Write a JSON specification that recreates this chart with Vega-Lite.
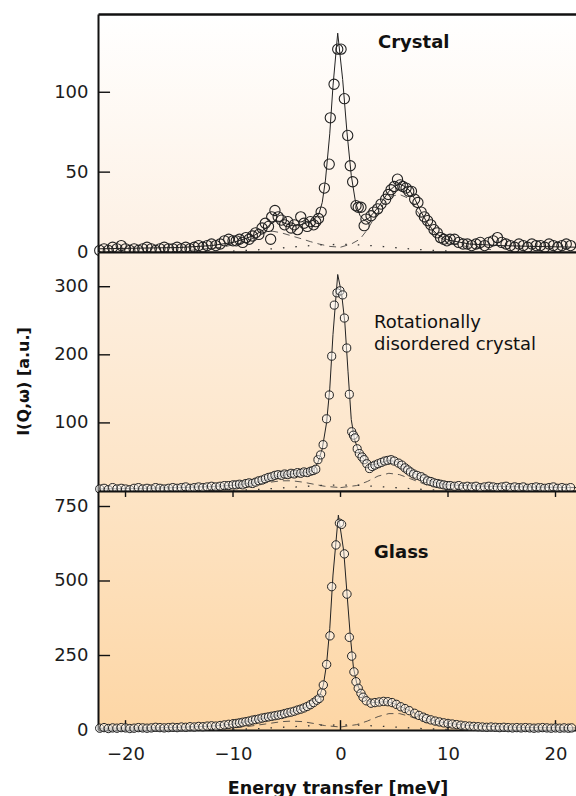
{
"$schema": "https://vega.github.io/schema/vega-lite/v6.json",
"background": "white",
"padding": {"left": 15, "top": 14, "right": 0, "bottom": 0},
"bounds": "flush",
"spacing": 0,
"config": {
  "view": {"stroke": null},
  "font": "DejaVu Sans",
  "axis": {"labelFont": "DejaVu Sans", "labelFontSize": 18, "labelColor": "#1c1c1c", "titleFont": "DejaVu Sans", "titleColor": "#111", "domainColor": "#111", "grid": false, "ticks": false, "zindex": 1}
},
"datasets": {
"p1": [{"x":-22.4,"y":1},{"x":-22.0,"y":2},{"x":-21.6,"y":1},{"x":-21.2,"y":3},{"x":-20.8,"y":2},{"x":-20.4,"y":4},{"x":-20.0,"y":2},{"x":-19.6,"y":1},{"x":-19.2,"y":2},{"x":-18.8,"y":1},{"x":-18.4,"y":2},{"x":-18.0,"y":3},{"x":-17.6,"y":2},{"x":-17.2,"y":1},{"x":-16.8,"y":2},{"x":-16.4,"y":3},{"x":-16.0,"y":2},{"x":-15.6,"y":2},{"x":-15.2,"y":3},{"x":-14.8,"y":2},{"x":-14.4,"y":3},{"x":-14.0,"y":2},{"x":-13.6,"y":3},{"x":-13.2,"y":4},{"x":-12.8,"y":3},{"x":-12.4,"y":4},{"x":-12.0,"y":5},{"x":-11.6,"y":4},{"x":-11.2,"y":5},{"x":-10.8,"y":7},{"x":-10.4,"y":8},{"x":-10.0,"y":7},
{"x":-9.7,"y":7},{"x":-9.4,"y":8},{"x":-9.1,"y":6},{"x":-8.8,"y":9},{"x":-8.5,"y":8},{"x":-8.2,"y":10},{"x":-7.9,"y":12},{"x":-7.6,"y":11},{"x":-7.3,"y":15},{"x":-7.0,"y":18},{"x":-6.7,"y":16},{"x":-6.5,"y":8},{"x":-6.4,"y":22},{"x":-6.1,"y":26},{"x":-5.8,"y":22},{"x":-5.5,"y":20},{"x":-5.2,"y":17},{"x":-4.9,"y":19},{"x":-4.6,"y":15},{"x":-4.3,"y":17},{"x":-4.0,"y":14},{"x":-3.7,"y":22},{"x":-3.4,"y":18},{"x":-3.1,"y":16},{"x":-2.8,"y":19},{"x":-2.5,"y":17},{"x":-2.3,"y":19},{"x":-2.05,"y":21},{"x":-1.8,"y":25},{"x":-1.5,"y":40},{"x":-1.05,"y":55},{"x":-0.95,"y":84},{"x":-0.6,"y":105},{"x":-0.26,"y":127},{"x":0.05,"y":127},{"x":0.36,"y":96},{"x":0.67,"y":73},{"x":0.91,"y":54},{"x":1.13,"y":44},{"x":1.44,"y":29},{"x":1.65,"y":28},{"x":1.9,"y":28},{"x":2.2,"y":16.5},{"x":2.37,"y":20.6},{"x":2.84,"y":22.7},{"x":3.1,"y":25},{"x":3.46,"y":27},{"x":3.77,"y":30},{"x":4.2,"y":33},{"x":4.45,"y":36},{"x":4.7,"y":39},{"x":5.0,"y":41},{"x":5.3,"y":45.6},{"x":5.55,"y":42},{"x":5.8,"y":41},{"x":6.1,"y":40},{"x":6.35,"y":38},{"x":6.6,"y":38},{"x":6.9,"y":33},{"x":7.2,"y":31},{"x":7.5,"y":25},{"x":7.8,"y":22},{"x":8.1,"y":19.6},{"x":8.4,"y":17},{"x":8.7,"y":14},{"x":9.0,"y":12},{"x":9.3,"y":9},{"x":9.6,"y":8},{"x":9.9,"y":7},
{"x":10.2,"y":8},{"x":10.6,"y":8},{"x":11.0,"y":6},{"x":11.4,"y":5},{"x":11.8,"y":5},{"x":12.2,"y":4},{"x":12.6,"y":5},{"x":13.0,"y":6},{"x":13.4,"y":4},{"x":13.8,"y":6},{"x":14.2,"y":7},{"x":14.6,"y":9},{"x":15.0,"y":6},{"x":15.4,"y":5},{"x":15.8,"y":4},{"x":16.2,"y":3},{"x":16.6,"y":5},{"x":17.0,"y":4},{"x":17.4,"y":3},{"x":17.8,"y":5},{"x":18.2,"y":4},{"x":18.6,"y":4},{"x":19.0,"y":3},{"x":19.4,"y":5},{"x":19.8,"y":4},{"x":20.2,"y":3},{"x":20.6,"y":4},{"x":21.0,"y":5},{"x":21.4,"y":4}],
"p2": [{"x":-22.4,"y":3},{"x":-22.0,"y":4},{"x":-21.6,"y":2},{"x":-21.2,"y":5},{"x":-20.8,"y":3},{"x":-20.4,"y":4},{"x":-20.0,"y":3},{"x":-19.6,"y":2},{"x":-19.2,"y":4},{"x":-18.8,"y":5},{"x":-18.4,"y":3},{"x":-18.0,"y":4},{"x":-17.6,"y":3},{"x":-17.2,"y":5},{"x":-16.8,"y":4},{"x":-16.4,"y":3},{"x":-16.0,"y":4},{"x":-15.6,"y":5},{"x":-15.2,"y":4},{"x":-14.8,"y":5},{"x":-14.4,"y":6},{"x":-14.0,"y":4},{"x":-13.6,"y":5},{"x":-13.2,"y":6},{"x":-12.8,"y":5},{"x":-12.4,"y":6},{"x":-12.0,"y":7},{"x":-11.6,"y":6},{"x":-11.2,"y":7},{"x":-10.8,"y":8},{"x":-10.4,"y":8},{"x":-10.0,"y":9},
{"x":-9.7,"y":9},{"x":-9.4,"y":10},{"x":-9.1,"y":9},{"x":-8.8,"y":11},{"x":-8.5,"y":12},{"x":-8.2,"y":11},{"x":-7.9,"y":13},{"x":-7.6,"y":15},{"x":-7.3,"y":16},{"x":-7.0,"y":18},{"x":-6.7,"y":20},{"x":-6.4,"y":21},{"x":-6.1,"y":23},{"x":-5.8,"y":24},{"x":-5.5,"y":23},{"x":-5.2,"y":25},{"x":-4.9,"y":24},{"x":-4.6,"y":26},{"x":-4.3,"y":25},{"x":-4.0,"y":27},{"x":-3.7,"y":26},{"x":-3.4,"y":28},{"x":-3.1,"y":27},{"x":-2.8,"y":29},{"x":-2.55,"y":30},{"x":-2.3,"y":32},{"x":-2.1,"y":46},{"x":-1.85,"y":53},{"x":-1.62,"y":68},{"x":-1.3,"y":106},{"x":-1.04,"y":141},{"x":-0.82,"y":198},{"x":-0.58,"y":273},{"x":-0.33,"y":291},{"x":-0.05,"y":294},{"x":0.2,"y":288},{"x":0.36,"y":254},{"x":0.58,"y":210},{"x":0.82,"y":142},{"x":1.04,"y":87},{"x":1.2,"y":82},{"x":1.35,"y":78},{"x":1.55,"y":62},{"x":1.75,"y":55},{"x":2.0,"y":50},{"x":2.2,"y":46},{"x":2.45,"y":40},{"x":2.7,"y":33},{"x":2.95,"y":36},{"x":3.2,"y":38},{"x":3.5,"y":40},{"x":3.8,"y":42},{"x":4.1,"y":44},{"x":4.4,"y":45},{"x":4.7,"y":46},{"x":5.0,"y":44},{"x":5.4,"y":41},{"x":5.7,"y":38},{"x":6.0,"y":34},{"x":6.25,"y":31},{"x":6.5,"y":28},{"x":6.8,"y":25},{"x":7.1,"y":23},{"x":7.5,"y":21},{"x":7.8,"y":18},{"x":8.1,"y":15},{"x":8.4,"y":14},{"x":8.7,"y":12},{"x":9.0,"y":11},{"x":9.3,"y":10},{"x":9.6,"y":9},{"x":9.9,"y":8},
{"x":10.2,"y":8},{"x":10.6,"y":7},{"x":11.0,"y":8},{"x":11.4,"y":6},{"x":11.8,"y":7},{"x":12.2,"y":6},{"x":12.6,"y":7},{"x":13.0,"y":5},{"x":13.4,"y":6},{"x":13.8,"y":7},{"x":14.2,"y":6},{"x":14.6,"y":5},{"x":15.0,"y":6},{"x":15.4,"y":7},{"x":15.8,"y":5},{"x":16.2,"y":6},{"x":16.6,"y":5},{"x":17.0,"y":6},{"x":17.4,"y":4},{"x":17.8,"y":5},{"x":18.2,"y":6},{"x":18.6,"y":5},{"x":19.0,"y":4},{"x":19.4,"y":5},{"x":19.8,"y":6},{"x":20.2,"y":4},{"x":20.6,"y":5},{"x":21.0,"y":4},{"x":21.4,"y":5}],
"p3": [{"x":-22.4,"y":6},{"x":-22.0,"y":8},{"x":-21.6,"y":5},{"x":-21.2,"y":7},{"x":-20.8,"y":6},{"x":-20.4,"y":8},{"x":-20.0,"y":7},{"x":-19.6,"y":5},{"x":-19.2,"y":6},{"x":-18.8,"y":8},{"x":-18.4,"y":7},{"x":-18.0,"y":6},{"x":-17.6,"y":7},{"x":-17.2,"y":9},{"x":-16.8,"y":8},{"x":-16.4,"y":7},{"x":-16.0,"y":8},{"x":-15.6,"y":9},{"x":-15.2,"y":8},{"x":-14.8,"y":10},{"x":-14.4,"y":9},{"x":-14.0,"y":11},{"x":-13.6,"y":10},{"x":-13.2,"y":12},{"x":-12.8,"y":11},{"x":-12.4,"y":13},{"x":-12.0,"y":14},{"x":-11.6,"y":13},{"x":-11.2,"y":15},{"x":-10.8,"y":17},{"x":-10.4,"y":19},{"x":-10.0,"y":21},
{"x":-9.7,"y":22},{"x":-9.4,"y":24},{"x":-9.1,"y":26},{"x":-8.8,"y":28},{"x":-8.5,"y":30},{"x":-8.2,"y":33},{"x":-7.9,"y":35},{"x":-7.6,"y":37},{"x":-7.3,"y":40},{"x":-7.0,"y":42},{"x":-6.7,"y":44},{"x":-6.4,"y":46},{"x":-6.1,"y":48},{"x":-5.8,"y":50},{"x":-5.5,"y":52},{"x":-5.2,"y":55},{"x":-4.9,"y":58},{"x":-4.6,"y":60},{"x":-4.3,"y":63},{"x":-4.0,"y":67},{"x":-3.7,"y":70},{"x":-3.4,"y":74},{"x":-3.1,"y":79},{"x":-2.8,"y":85},{"x":-2.5,"y":92},{"x":-2.2,"y":100},{"x":-1.97,"y":106},{"x":-1.75,"y":125},{"x":-1.6,"y":151},{"x":-1.29,"y":220},{"x":-0.98,"y":316},{"x":-0.82,"y":481},{"x":-0.42,"y":621},{"x":-0.1,"y":694},{"x":0.1,"y":690},{"x":0.36,"y":591},{"x":0.6,"y":456},{"x":0.82,"y":311},{"x":1.04,"y":248},{"x":1.25,"y":195},{"x":1.44,"y":162},{"x":1.65,"y":140},{"x":1.9,"y":123},{"x":2.1,"y":110},{"x":2.4,"y":98},{"x":2.84,"y":90},{"x":3.2,"y":92},{"x":3.6,"y":94},{"x":4.0,"y":96},{"x":4.4,"y":95},{"x":4.8,"y":92},{"x":5.2,"y":86},{"x":5.6,"y":78},{"x":6.0,"y":72},{"x":6.4,"y":65},{"x":6.9,"y":56},{"x":7.3,"y":49},{"x":7.7,"y":43},{"x":8.0,"y":38},{"x":8.4,"y":34},{"x":8.8,"y":30},{"x":9.2,"y":27},{"x":9.6,"y":24},{"x":10.0,"y":22},
{"x":10.4,"y":20},{"x":10.8,"y":18},{"x":11.2,"y":16},{"x":11.6,"y":14},{"x":12.0,"y":13},{"x":12.4,"y":12},{"x":12.8,"y":11},{"x":13.2,"y":10},{"x":13.6,"y":9},{"x":14.0,"y":10},{"x":14.4,"y":9},{"x":14.8,"y":8},{"x":15.2,"y":9},{"x":15.6,"y":8},{"x":16.0,"y":7},{"x":16.4,"y":8},{"x":16.8,"y":7},{"x":17.2,"y":8},{"x":17.6,"y":7},{"x":18.0,"y":6},{"x":18.4,"y":7},{"x":18.8,"y":8},{"x":19.2,"y":7},{"x":19.6,"y":6},{"x":20.0,"y":7},{"x":20.4,"y":6},{"x":20.8,"y":7},{"x":21.2,"y":6},{"x":21.5,"y":7}],
"f1": [{"x":-22.56,"y":2},{"x":-18,"y":2.5},{"x":-15,"y":2.8},{"x":-12,"y":4},{"x":-10,"y":6},{"x":-9,"y":8},{"x":-8,"y":10.5},{"x":-7,"y":14.5},{"x":-6.5,"y":17.5},{"x":-6,"y":19.5},{"x":-5.5,"y":19},{"x":-5,"y":17.5},{"x":-4.5,"y":16.5},{"x":-4,"y":16.5},{"x":-3.5,"y":17.5},{"x":-3,"y":18.5},{"x":-2.5,"y":20},{"x":-2,"y":24},{"x":-1.7,"y":31},{"x":-1.4,"y":45},{"x":-1.0,"y":74},{"x":-0.7,"y":104},{"x":-0.26,"y":137},{"x":0.2,"y":108},{"x":0.6,"y":75},{"x":1.0,"y":48},{"x":1.4,"y":31},{"x":1.8,"y":23},{"x":2.2,"y":20},{"x":2.6,"y":21},{"x":3.0,"y":24},{"x":3.5,"y":28},{"x":4.0,"y":33},{"x":4.5,"y":38},{"x":5.0,"y":41},{"x":5.5,"y":42.5},{"x":6.0,"y":41},{"x":6.5,"y":38},{"x":7.0,"y":32},{"x":7.5,"y":25},{"x":8.0,"y":19},{"x":8.5,"y":14.5},{"x":9.0,"y":11},{"x":10,"y":7.5},{"x":12,"y":5},{"x":15,"y":4},{"x":18,"y":3.5},{"x":22,"y":3}],
"f2": [{"x":-22.56,"y":3},{"x":-18,"y":4},{"x":-15,"y":5},{"x":-12,"y":6.5},{"x":-10,"y":8.5},{"x":-8,"y":12},{"x":-7,"y":16},{"x":-6,"y":21},{"x":-5,"y":24},{"x":-4,"y":26},{"x":-3,"y":28},{"x":-2.5,"y":31},{"x":-2.1,"y":42},{"x":-1.7,"y":62},{"x":-1.3,"y":100},{"x":-1.0,"y":150},{"x":-0.7,"y":230},{"x":-0.26,"y":318},{"x":0.1,"y":290},{"x":0.4,"y":248},{"x":0.7,"y":175},{"x":1.0,"y":105},{"x":1.3,"y":76},{"x":1.7,"y":58},{"x":2.2,"y":46},{"x":2.7,"y":39},{"x":3.2,"y":39},{"x":3.8,"y":42},{"x":4.5,"y":45},{"x":5.2,"y":43},{"x":6,"y":35},{"x":7,"y":25},{"x":8,"y":17},{"x":9,"y":12},{"x":10,"y":9},{"x":13,"y":7},{"x":17,"y":6},{"x":22,"y":5}],
"f3": [{"x":-22.56,"y":6},{"x":-18,"y":7},{"x":-15,"y":9},{"x":-12,"y":13},{"x":-10,"y":20},{"x":-8,"y":32},{"x":-6,"y":47},{"x":-4,"y":66},{"x":-3,"y":80},{"x":-2.5,"y":92},{"x":-2,"y":108},{"x":-1.6,"y":150},{"x":-1.3,"y":220},{"x":-1.0,"y":340},{"x":-0.7,"y":520},{"x":-0.2,"y":721},{"x":0.3,"y":600},{"x":0.6,"y":460},{"x":0.9,"y":320},{"x":1.2,"y":210},{"x":1.5,"y":158},{"x":2.0,"y":118},{"x":2.5,"y":98},{"x":3.0,"y":92},{"x":3.5,"y":93},{"x":4.0,"y":95},{"x":4.5,"y":94},{"x":5.0,"y":88},{"x":5.5,"y":80},{"x":6,"y":72},{"x":7,"y":55},{"x":8,"y":39},{"x":9,"y":29},{"x":10,"y":22},{"x":12,"y":15},{"x":15,"y":10},{"x":18,"y":8},{"x":22,"y":7}],
"k1": [{"c":"L","x":-14,"y":1},{"c":"L","x":-11,"y":3},{"c":"L","x":-9,"y":6},{"c":"L","x":-8,"y":9},{"c":"L","x":-7,"y":12},{"c":"L","x":-6.3,"y":13},{"c":"L","x":-5.5,"y":12},{"c":"L","x":-4.5,"y":10},{"c":"L","x":-3.5,"y":8},{"c":"L","x":-2.8,"y":6.5},{"c":"L","x":-2,"y":5},{"c":"L","x":-1,"y":3.5},{"c":"L","x":0,"y":3},
{"c":"R","x":0,"y":3},{"c":"R","x":1,"y":5},{"c":"R","x":1.8,"y":8},{"c":"R","x":2.5,"y":14},{"c":"R","x":3.2,"y":22},{"c":"R","x":4,"y":30},{"c":"R","x":4.8,"y":35},{"c":"R","x":5.5,"y":36},{"c":"R","x":6.2,"y":34},{"c":"R","x":7,"y":27},{"c":"R","x":8,"y":17},{"c":"R","x":9,"y":10},{"c":"R","x":10,"y":6},{"c":"R","x":12,"y":3},{"c":"R","x":14,"y":1.5}],
"k2": [{"c":"L","x":-12,"y":2},{"c":"L","x":-9,"y":6},{"c":"L","x":-7,"y":12},{"c":"L","x":-5.5,"y":15},{"c":"L","x":-4.5,"y":15},{"c":"L","x":-3.5,"y":13},{"c":"L","x":-2.5,"y":10},{"c":"L","x":-1.5,"y":7},{"c":"L","x":0,"y":5},
{"c":"R","x":0,"y":5},{"c":"R","x":1.5,"y":8},{"c":"R","x":2.5,"y":14},{"c":"R","x":3.5,"y":22},{"c":"R","x":4.5,"y":26},{"c":"R","x":5.5,"y":24},{"c":"R","x":6.5,"y":18},{"c":"R","x":8,"y":9},{"c":"R","x":10,"y":4},{"c":"R","x":12,"y":2}],
"k3": [{"c":"L","x":-12,"y":3},{"c":"L","x":-9,"y":10},{"c":"L","x":-7,"y":20},{"c":"L","x":-5.5,"y":28},{"c":"L","x":-4.5,"y":30},{"c":"L","x":-3.5,"y":28},{"c":"L","x":-2.5,"y":22},{"c":"L","x":-1.5,"y":15},{"c":"L","x":0,"y":10},
{"c":"R","x":0,"y":10},{"c":"R","x":1.5,"y":18},{"c":"R","x":2.5,"y":30},{"c":"R","x":3.5,"y":45},{"c":"R","x":4.5,"y":55},{"c":"R","x":5.5,"y":55},{"c":"R","x":6.5,"y":45},{"c":"R","x":8,"y":25},{"c":"R","x":10,"y":10},{"c":"R","x":12,"y":4}],
"q1": [{"x":-10,"y":0.6},{"x":-8,"y":1.2},{"x":-6,"y":2.2},{"x":-4,"y":3.4},{"x":-2,"y":4.4},{"x":0,"y":4.8},{"x":2,"y":4.4},{"x":4,"y":3.4},{"x":6,"y":2.2},{"x":8,"y":1.2},{"x":10,"y":0.6}],
"q2": [{"x":-10,"y":1},{"x":-8,"y":2},{"x":-6,"y":4},{"x":-4,"y":6},{"x":-2,"y":8},{"x":0,"y":9},{"x":2,"y":8},{"x":4,"y":6},{"x":6,"y":4},{"x":8,"y":2},{"x":10,"y":1}],
"q3": [{"x":-10,"y":2},{"x":-8,"y":4},{"x":-6,"y":8},{"x":-4,"y":12},{"x":-2,"y":16},{"x":0,"y":17},{"x":2,"y":16},{"x":4,"y":12},{"x":6,"y":8},{"x":8,"y":4},{"x":10,"y":2}],
"t1": [{"t":50},{"t":100}],
"t2": [{"t":100},{"t":200},{"t":300}],
"t3": [{"t":250},{"t":500},{"t":750}],
"tx": [{"t":-20},{"t":-10},{"t":0},{"t":10},{"t":20}]
},
"vconcat": [
{
  "width": 479, "height": 238,
  "view": {"stroke": null, "fill": {"gradient": "linear", "x1": 0, "y1": 0, "x2": 0, "y2": 1, "stops": [{"offset": 0, "color": "#ffffff"}, {"offset": 1, "color": "#fdf0e3"}]}},
  "layer": [
    {"data": {"name": "t1"}, "mark": {"type": "rule", "color": "#111", "strokeWidth": 1.4},
     "encoding": {"y": {"field": "t", "type": "quantitative", "scale": {"domain": [0, 149], "nice": false, "zero": false}, "axis": null}, "x": {"datum": -22.56, "type": "quantitative", "scale": {"domain": [-22.56, 22.0], "nice": false, "zero": false}, "axis": null}, "x2": {"datum": -21.44}}},
    {"data": {"name": "q1"}, "mark": {"type": "line", "color": "#333", "strokeWidth": 1.3, "strokeDash": [1.5, 11], "clip": true},
     "encoding": {"x": {"field": "x", "type": "quantitative", "scale": {"domain": [-22.56, 22.0], "nice": false, "zero": false}, "axis": null}, "y": {"field": "y", "type": "quantitative", "scale": {"domain": [0, 149], "nice": false, "zero": false}, "axis": null}}},
    {"data": {"name": "k1"}, "mark": {"type": "line", "color": "#333", "strokeWidth": 0.8, "strokeDash": [7, 5], "clip": true},
     "encoding": {"x": {"field": "x", "type": "quantitative", "scale": {"domain": [-22.56, 22.0], "nice": false, "zero": false}, "axis": null}, "y": {"field": "y", "type": "quantitative", "scale": {"domain": [0, 149], "nice": false, "zero": false}, "axis": null}, "detail": {"field": "c"}}},
    {"data": {"name": "f1"}, "mark": {"type": "line", "color": "#222", "strokeWidth": 1, "clip": true},
     "encoding": {"x": {"field": "x", "type": "quantitative", "scale": {"domain": [-22.56, 22.0], "nice": false, "zero": false}, "axis": {"orient": "bottom", "labels": false, "domainWidth": 2, "title": null}}, "y": {"field": "y", "type": "quantitative", "scale": {"domain": [0, 149], "nice": false, "zero": false}, "axis": null}}},
    {"data": {"name": "p1"}, "mark": {"type": "point", "shape": "circle", "size": 105, "stroke": "#222", "strokeWidth": 1.1, "filled": false, "opacity": 1},
     "encoding": {"x": {"field": "x", "type": "quantitative", "scale": {"domain": [-22.56, 22.0], "nice": false, "zero": false}, "axis": {"orient": "top", "labels": false, "domainWidth": 2.5, "title": null}}, "y": {"field": "y", "type": "quantitative", "scale": {"domain": [0, 149], "nice": false, "zero": false}, "axis": {"orient": "left", "values": [0, 50, 100], "labelPadding": 10, "domainWidth": 2, "title": null}}}},
    {"data": {"values": [{}]}, "mark": {"type": "text", "text": "Crystal", "font": "DejaVu Sans", "fontSize": 18, "fontWeight": "bold", "align": "left", "baseline": "middle", "color": "#111"},
     "encoding": {"x": {"datum": 3.49, "type": "quantitative", "scale": {"domain": [-22.56, 22.0], "nice": false, "zero": false}, "axis": null}, "y": {"datum": 131, "type": "quantitative", "scale": {"domain": [0, 149], "nice": false, "zero": false}, "axis": null}}}
  ],
  "resolve": {"axis": {"x": "independent", "y": "independent"}}
},
{
  "width": 479, "height": 239,
  "view": {"stroke": null, "fill": {"gradient": "linear", "x1": 0, "y1": 0, "x2": 0, "y2": 1, "stops": [{"offset": 0, "color": "#fdf0e2"}, {"offset": 1, "color": "#fde4c6"}]}},
  "layer": [
    {"data": {"name": "t2"}, "mark": {"type": "rule", "color": "#111", "strokeWidth": 1.4},
     "encoding": {"y": {"field": "t", "type": "quantitative", "scale": {"domain": [0, 351], "nice": false, "zero": false}, "axis": null}, "x": {"datum": -22.56, "type": "quantitative", "scale": {"domain": [-22.56, 22.0], "nice": false, "zero": false}, "axis": null}, "x2": {"datum": -21.44}}},
    {"data": {"name": "q2"}, "mark": {"type": "line", "color": "#333", "strokeWidth": 1.3, "strokeDash": [1.5, 11], "clip": true},
     "encoding": {"x": {"field": "x", "type": "quantitative", "scale": {"domain": [-22.56, 22.0], "nice": false, "zero": false}, "axis": null}, "y": {"field": "y", "type": "quantitative", "scale": {"domain": [0, 351], "nice": false, "zero": false}, "axis": null}}},
    {"data": {"name": "k2"}, "mark": {"type": "line", "color": "#333", "strokeWidth": 0.8, "strokeDash": [7, 5], "clip": true},
     "encoding": {"x": {"field": "x", "type": "quantitative", "scale": {"domain": [-22.56, 22.0], "nice": false, "zero": false}, "axis": null}, "y": {"field": "y", "type": "quantitative", "scale": {"domain": [0, 351], "nice": false, "zero": false}, "axis": null}, "detail": {"field": "c"}}},
    {"data": {"name": "f2"}, "mark": {"type": "line", "color": "#222", "strokeWidth": 1, "clip": true},
     "encoding": {"x": {"field": "x", "type": "quantitative", "scale": {"domain": [-22.56, 22.0], "nice": false, "zero": false}, "axis": {"orient": "bottom", "labels": false, "domainWidth": 2, "title": null}}, "y": {"field": "y", "type": "quantitative", "scale": {"domain": [0, 351], "nice": false, "zero": false}, "axis": null}}},
    {"data": {"name": "p2"}, "mark": {"type": "point", "shape": "circle", "size": 66, "stroke": "#222", "strokeWidth": 1, "filled": true, "fill": "#ffffff", "fillOpacity": 0.45, "opacity": 1},
     "encoding": {"x": {"field": "x", "type": "quantitative", "scale": {"domain": [-22.56, 22.0], "nice": false, "zero": false}, "axis": {"orient": "top", "labels": false, "domainWidth": 2, "title": null}}, "y": {"field": "y", "type": "quantitative", "scale": {"domain": [0, 351], "nice": false, "zero": false}, "axis": {"orient": "left", "values": [100, 200, 300], "labelPadding": 10, "domainWidth": 2, "title": "I(Q,ω) [a.u.]", "titleFontSize": 16, "titleFontWeight": "bold", "titlePadding": 22, "titleY": 129}}}},
    {"data": {"values": [{}]}, "mark": {"type": "text", "text": "Rotationally", "font": "DejaVu Sans", "fontSize": 18, "align": "left", "baseline": "middle", "color": "#111"},
     "encoding": {"x": {"datum": 3.12, "type": "quantitative", "scale": {"domain": [-22.56, 22.0], "nice": false, "zero": false}, "axis": null}, "y": {"datum": 246.7, "type": "quantitative", "scale": {"domain": [0, 351], "nice": false, "zero": false}, "axis": null}}},
    {"data": {"values": [{}]}, "mark": {"type": "text", "text": "disordered crystal", "font": "DejaVu Sans", "fontSize": 18, "align": "left", "baseline": "middle", "color": "#111"},
     "encoding": {"x": {"datum": 3.12, "type": "quantitative", "scale": {"domain": [-22.56, 22.0], "nice": false, "zero": false}, "axis": null}, "y": {"datum": 214.4, "type": "quantitative", "scale": {"domain": [0, 351], "nice": false, "zero": false}, "axis": null}}}
  ],
  "resolve": {"axis": {"x": "independent", "y": "independent"}}
},
{
  "width": 479, "height": 239,
  "view": {"stroke": null, "fill": {"gradient": "linear", "x1": 0, "y1": 0, "x2": 0, "y2": 1, "stops": [{"offset": 0, "color": "#fde4c5"}, {"offset": 1, "color": "#fdd6a5"}]}},
  "layer": [
    {"data": {"name": "t3"}, "mark": {"type": "rule", "color": "#111", "strokeWidth": 1.4},
     "encoding": {"y": {"field": "t", "type": "quantitative", "scale": {"domain": [0, 802], "nice": false, "zero": false}, "axis": null}, "x": {"datum": -22.56, "type": "quantitative", "scale": {"domain": [-22.56, 22.0], "nice": false, "zero": false}, "axis": null}, "x2": {"datum": -21.44}}},
    {"data": {"name": "tx"}, "mark": {"type": "rule", "color": "#111", "strokeWidth": 1.4},
     "encoding": {"x": {"field": "t", "type": "quantitative", "scale": {"domain": [-22.56, 22.0], "nice": false, "zero": false}, "axis": null}, "y": {"datum": 0, "type": "quantitative", "scale": {"domain": [0, 802], "nice": false, "zero": false}, "axis": null}, "y2": {"datum": 33}}},
    {"data": {"name": "tx"}, "mark": {"type": "rule", "color": "#111", "strokeWidth": 1.4},
     "encoding": {"x": {"field": "t", "type": "quantitative", "scale": {"domain": [-22.56, 22.0], "nice": false, "zero": false}, "axis": null}, "y": {"datum": 802, "type": "quantitative", "scale": {"domain": [0, 802], "nice": false, "zero": false}, "axis": null}, "y2": {"datum": 782}}},
    {"data": {"name": "q3"}, "mark": {"type": "line", "color": "#333", "strokeWidth": 1.3, "strokeDash": [1.5, 11], "clip": true},
     "encoding": {"x": {"field": "x", "type": "quantitative", "scale": {"domain": [-22.56, 22.0], "nice": false, "zero": false}, "axis": null}, "y": {"field": "y", "type": "quantitative", "scale": {"domain": [0, 802], "nice": false, "zero": false}, "axis": null}}},
    {"data": {"name": "k3"}, "mark": {"type": "line", "color": "#333", "strokeWidth": 0.8, "strokeDash": [7, 5], "clip": true},
     "encoding": {"x": {"field": "x", "type": "quantitative", "scale": {"domain": [-22.56, 22.0], "nice": false, "zero": false}, "axis": null}, "y": {"field": "y", "type": "quantitative", "scale": {"domain": [0, 802], "nice": false, "zero": false}, "axis": null}, "detail": {"field": "c"}}},
    {"data": {"name": "f3"}, "mark": {"type": "line", "color": "#222", "strokeWidth": 1, "clip": true},
     "encoding": {"x": {"field": "x", "type": "quantitative", "scale": {"domain": [-22.56, 22.0], "nice": false, "zero": false}, "axis": {"orient": "bottom", "values": [-20, -10, 0, 10, 20], "labelPadding": 15, "domainWidth": 2, "title": "Energy transfer [meV]", "titleFontSize": 17.5, "titleFontWeight": "bold", "titlePadding": 16}}, "y": {"field": "y", "type": "quantitative", "scale": {"domain": [0, 802], "nice": false, "zero": false}, "axis": null}}},
    {"data": {"name": "p3"}, "mark": {"type": "point", "shape": "circle", "size": 70, "stroke": "#222", "strokeWidth": 1, "filled": true, "fill": "#ffffff", "fillOpacity": 0.45, "opacity": 1},
     "encoding": {"x": {"field": "x", "type": "quantitative", "scale": {"domain": [-22.56, 22.0], "nice": false, "zero": false}, "axis": {"orient": "top", "labels": false, "domainWidth": 2, "title": null}}, "y": {"field": "y", "type": "quantitative", "scale": {"domain": [0, 802], "nice": false, "zero": false}, "axis": {"orient": "left", "values": [0, 250, 500, 750], "labelPadding": 10, "domainWidth": 2, "title": null}}}},
    {"data": {"values": [{}]}, "mark": {"type": "text", "text": "Glass", "font": "DejaVu Sans", "fontSize": 18, "fontWeight": "bold", "align": "left", "baseline": "middle", "color": "#111"},
     "encoding": {"x": {"datum": 3.12, "type": "quantitative", "scale": {"domain": [-22.56, 22.0], "nice": false, "zero": false}, "axis": null}, "y": {"datum": 594, "type": "quantitative", "scale": {"domain": [0, 802], "nice": false, "zero": false}, "axis": null}}}
  ],
  "resolve": {"axis": {"x": "independent", "y": "independent"}}
}
]
}
